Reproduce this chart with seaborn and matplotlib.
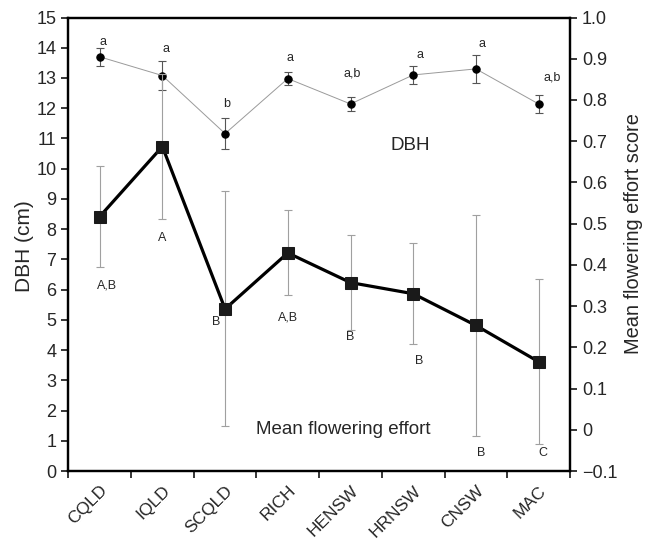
import numpy as np
import pandas as pd
import matplotlib
matplotlib.use("Agg")
import matplotlib.pyplot as plt
import seaborn as sns

sites = ["CQLD", "IQLD", "SCQLD", "RICH", "HENSW", "HRNSW", "CNSW", "MAC"]
dbh_mean = [13.70, 13.08, 11.16, 12.98, 12.14, 13.10, 13.30, 12.14]
dbh_err = [0.30, 0.47, 0.50, 0.22, 0.23, 0.29, 0.45, 0.29]
flower_mean = [0.517, 0.687, 0.293, 0.429, 0.357, 0.330, 0.253, 0.165]
flower_err = [0.123, 0.176, 0.285, 0.103, 0.115, 0.123, 0.267, 0.200]
dbh_letters = ["a", "a", "b", "a", "a,b", "a", "a", "a,b"]
dbh_letter_y = [14.19, 13.97, 12.15, 13.67, 13.15, 13.77, 14.14, 13.02]
dbh_letter_dx = [0.05, 0.05, 0.02, 0.03, 0.03, 0.11, 0.10, 0.21]
flower_letters = ["A,B", "A", "B", "A,B", "B", "B", "B", "C"]
flower_letter_y = [0.349, 0.466, 0.261, 0.273, 0.224, 0.166, -0.057, -0.056]
flower_letter_dx = [0.11, 0.0, -0.14, 0.0, 0.0, 0.10, 0.08, 0.07]
left_ticks = list(range(0, 16))
right_ticks = [-0.1, 0.0, 0.1, 0.2, 0.3, 0.4, 0.5, 0.6, 0.7, 0.8, 0.9, 1.0]
right_tick_labels = ["\u22120.1", "0", "0.1", "0.2", "0.3", "0.4", "0.5", "0.6", "0.7", "0.8", "0.9", "1.0"]

sns.set_style("ticks")
plt.rcParams["font.family"] = ["Liberation Sans", "DejaVu Sans"]

df = pd.DataFrame({"site": sites, "dbh": dbh_mean, "dbh_err": dbh_err,
                   "flower": flower_mean, "flower_err": flower_err})
df["pos"] = np.arange(len(sites))

fig = plt.figure(figsize=(6.49, 5.42), dpi=100)
ax = fig.add_axes([68.3 / 649, 71 / 542, (570 - 68.3) / 649, (471 - 17.5) / 542])
ax2 = ax.twinx()

# DBH series (left axis)
ax.errorbar(df["pos"], df["dbh"], yerr=df["dbh_err"], fmt="none", ecolor="#555555",
            elinewidth=0.8, capsize=2.7, capthick=0.8, zorder=2)
sns.lineplot(data=df, x="pos", y="dbh", ax=ax, color="#9a9a9a", linewidth=0.7,
             marker="o", markersize=5.3, markerfacecolor="black", markeredgecolor="black",
             zorder=3, legend=False)

# Flowering series (right axis)
ax2.errorbar(df["pos"], df["flower"], yerr=df["flower_err"], fmt="none", ecolor="#a0a0a0",
             elinewidth=0.8, capsize=2.7, capthick=0.8, zorder=2)
sns.lineplot(data=df, x="pos", y="flower", ax=ax2, color="black", linewidth=2.3,
             marker="s", markersize=9, markerfacecolor="#1a1a1a", markeredgecolor="#1a1a1a",
             zorder=3, legend=False)

ax.set_xlim(-0.5, len(sites) - 0.5)
ax.set_ylim(0, 15)
ax2.set_ylim(-0.1, 1.0)

ax.set_xticks(np.arange(-0.5, len(sites), 1.0))
ax.set_xticklabels([])
ax.set_xticks(df["pos"], minor=True)
ax.set_xticklabels(sites, minor=True, rotation=45, ha="right", rotation_mode="anchor", fontsize=12.5)
ax.tick_params(axis="x", which="minor", length=0, pad=8.5)
ax.tick_params(axis="x", which="major", length=5, width=1.3, direction="out")

ax.set_yticks(left_ticks)
ax.tick_params(axis="y", length=5, width=1.3, labelsize=13)
ax2.set_yticks(right_ticks)
ax2.set_yticklabels(right_tick_labels)
ax2.tick_params(axis="y", length=5, width=1.3, labelsize=13)

ax.set_xlabel("")
ax.set_ylabel("DBH (cm)", fontsize=15)
ax.yaxis.set_label_coords(-0.068, 0.496)
ax2.set_ylabel("Mean flowering effort score", fontsize=14.4)
ax2.yaxis.set_label_coords(1.107, 0.5226)

for a in (ax, ax2):
    for s in a.spines.values():
        s.set_visible(True)
        s.set_linewidth(1.6)
        s.set_color("black")

for i, (t, y, dx) in enumerate(zip(dbh_letters, dbh_letter_y, dbh_letter_dx)):
    ax.text(i + dx, y, t, ha="center", va="center", fontsize=9)
for i, (t, y, dx) in enumerate(zip(flower_letters, flower_letter_y, flower_letter_dx)):
    ax2.text(i + dx, y, t, ha="center", va="center", fontsize=9)

ax.text(4.95, 10.77, "DBH", ha="center", va="center", fontsize=13.5)
ax.text(3.88, 1.38, "Mean flowering effort", ha="center", va="center", fontsize=13.5)

fig.savefig("out.png", dpi=100)
